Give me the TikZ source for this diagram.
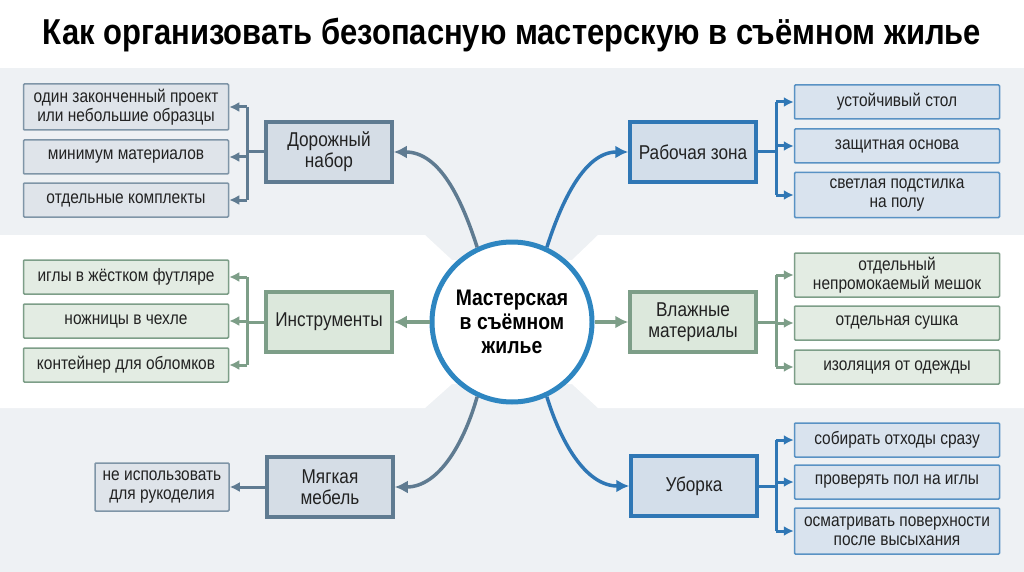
\documentclass[tikz,border=0pt]{standalone}
\usepackage{fontspec}
\setmainfont{Liberation Sans}[FakeStretch=0.86]
\usetikzlibrary{arrows.meta}
\definecolor{bandgray}{HTML}{EEF1F4}
\definecolor{slate}{HTML}{5F7B91}
\definecolor{slatefill}{HTML}{D5DDE6}
\definecolor{slateleaf}{HTML}{DFE4EA}
\definecolor{ocean}{HTML}{2F77B5}
\definecolor{oceanfill}{HTML}{D3DEEA}
\definecolor{oceanleaf}{HTML}{D9E3EE}
\definecolor{sage}{HTML}{7D9E88}
\definecolor{sagefill}{HTML}{DCE8DC}
\definecolor{sageleaf}{HTML}{E3ECE3}
\definecolor{hub}{HTML}{2E86C1}
\definecolor{ink}{HTML}{222222}
\tikzstyle{topic} = [rectangle, line width=3.5pt, minimum width=126pt, minimum height=60pt, align=center, text=ink, font=\fontsize{20}{21}\selectfont, inner sep=2pt]
\tikzstyle{leaf} = [rectangle, line width=1.5pt, rounded corners=1pt, minimum width=205pt, minimum height=34pt, align=center, text=ink, font=\fontsize{18}{19}\selectfont, inner sep=1pt]
\tikzstyle{sleaf} = [leaf, draw=slate!80, fill=slateleaf]
\tikzstyle{gleaf} = [leaf, draw=sage, fill=sageleaf]
\tikzstyle{bleaf} = [leaf, draw=ocean!80, fill=oceanleaf]
\tikzstyle{link} = [line width=3.5pt, -{Latex[length=13pt,width=13pt]}]
\tikzstyle{twig} = [line width=3pt]
\tikzstyle{tip} = [line width=3pt, -{Latex[length=10pt,width=10pt]}]
\begin{document}
\begin{tikzpicture}[x=1pt, y=-1pt]
\useasboundingbox (0,0) rectangle (1024,572);
% background bands
\fill[white] (0,0) rectangle (1024,572);
\fill[bandgray] (0,68) rectangle (1024,572);
\fill[white] (0,235) -- (425,235) -- (452,260) -- (572,260) -- (598,235) -- (1024,235)
  -- (1024,408) -- (598,408) -- (572,384) -- (452,384) -- (425,408) -- (0,408) -- cycle;
\node[font=\fontsize{36}{38}\selectfont\bfseries] (title) at (512,35) {Как организовать безопасную мастерскую в съёмном жилье};
% hub
\node[circle, draw=hub, line width=5pt, fill=white, minimum size=160pt, align=center,
  font=\fontsize{22.5}{24}\selectfont\bfseries] (hub) at (512,322) {Мастерская\\в съёмном\\жилье};
% topics
\node[topic, draw=slate, fill=slatefill] (dor) at (329,152) {Дорожный\\набор};
\node[topic, draw=sage, fill=sagefill] (ins) at (329,322) {Инструменты};
\node[topic, draw=slate, fill=slatefill] (mya) at (330,487) {Мягкая\\мебель};
\node[topic, draw=ocean, fill=oceanfill] (rab) at (693,152) {Рабочая зона};
\node[topic, draw=sage, fill=sagefill] (vla) at (693,322) {Влажные\\материалы};
\node[topic, draw=ocean, fill=oceanfill] (ubo) at (694,486) {Уборка};
% leaves, left
\node[sleaf, minimum height=46pt] (dor1) at (126,107) {один законченный проект\\или небольшие образцы};
\node[sleaf] (dor2) at (126,157) {минимум материалов};
\node[sleaf] (dor3) at (126,200) {отдельные комплекты};
\node[gleaf] (ins1) at (126,277) {иглы в жёстком футляре};
\node[gleaf] (ins2) at (126,321) {ножницы в чехле};
\node[gleaf] (ins3) at (126,365) {контейнер для обломков};
\node[sleaf, minimum width=134pt, minimum height=48pt] (mya1) at (162,487) {не использовать\\для рукоделия};
% leaves, right
\node[bleaf] (rab1) at (897,102) {устойчивый стол};
\node[bleaf] (rab2) at (897,146) {защитная основа};
\node[bleaf, minimum height=45pt] (rab3) at (897,195) {светлая подстилка\\на полу};
\node[gleaf, minimum height=44pt] (vla1) at (897,275) {отдельный\\непромокаемый мешок};
\node[gleaf] (vla2) at (897,323) {отдельная сушка};
\node[gleaf] (vla3) at (897,367) {изоляция от одежды};
\node[bleaf] (ubo1) at (897,440) {собирать отходы сразу};
\node[bleaf] (ubo2) at (897,482) {проверять пол на иглы};
\node[bleaf, minimum height=46pt] (ubo3) at (897,531) {осматривать поверхности\\после высыхания};
% hub to topics
\draw[link, slate] (hub.115) .. controls (462,200) and (440,152) .. (dor.east);
\draw[link, sage] (hub.west) -- (ins.east);
\draw[link, slate] (hub.245) .. controls (465,440) and (440,487) .. (mya.east);
\draw[link, ocean] (hub.65) .. controls (562,200) and (585,152) .. (rab.west);
\draw[link, sage] (hub.east) -- (vla.west);
\draw[link, ocean] (hub.295) .. controls (560,440) and (585,486) .. (ubo.west);
% brackets
\coordinate (dsp) at (247,152);
\coordinate (isp) at (247,322);
\coordinate (rsp) at (776,152);
\coordinate (vsp) at (776,322);
\coordinate (usp) at (776,486);
\draw[twig, slate] (dor.west) -- (dsp) (dsp |- dor1) -- (dsp |- dor3);
\foreach \n in {dor1,dor2,dor3} \draw[tip, slate] (dsp |- \n) -- (\n.east);
\draw[twig, sage] (ins.west) -- (isp) (isp |- ins1) -- (isp |- ins3);
\foreach \n in {ins1,ins2,ins3} \draw[tip, sage] (isp |- \n) -- (\n.east);
\draw[tip, slate] (mya.west) -- (mya1.east);
\draw[twig, ocean] (rab.east) -- (rsp) (rsp |- rab1) -- (rsp |- rab3);
\foreach \n in {rab1,rab2,rab3} \draw[tip, ocean] (rsp |- \n) -- (\n.west);
\draw[twig, sage] (vla.east) -- (vsp) (vsp |- vla1) -- (vsp |- vla3);
\foreach \n in {vla1,vla2,vla3} \draw[tip, sage] (vsp |- \n) -- (\n.west);
\draw[twig, ocean] (ubo.east) -- (usp) (usp |- ubo1) -- (usp |- ubo3);
\foreach \n in {ubo1,ubo2,ubo3} \draw[tip, ocean] (usp |- \n) -- (\n.west);
\end{tikzpicture}
\end{document}
